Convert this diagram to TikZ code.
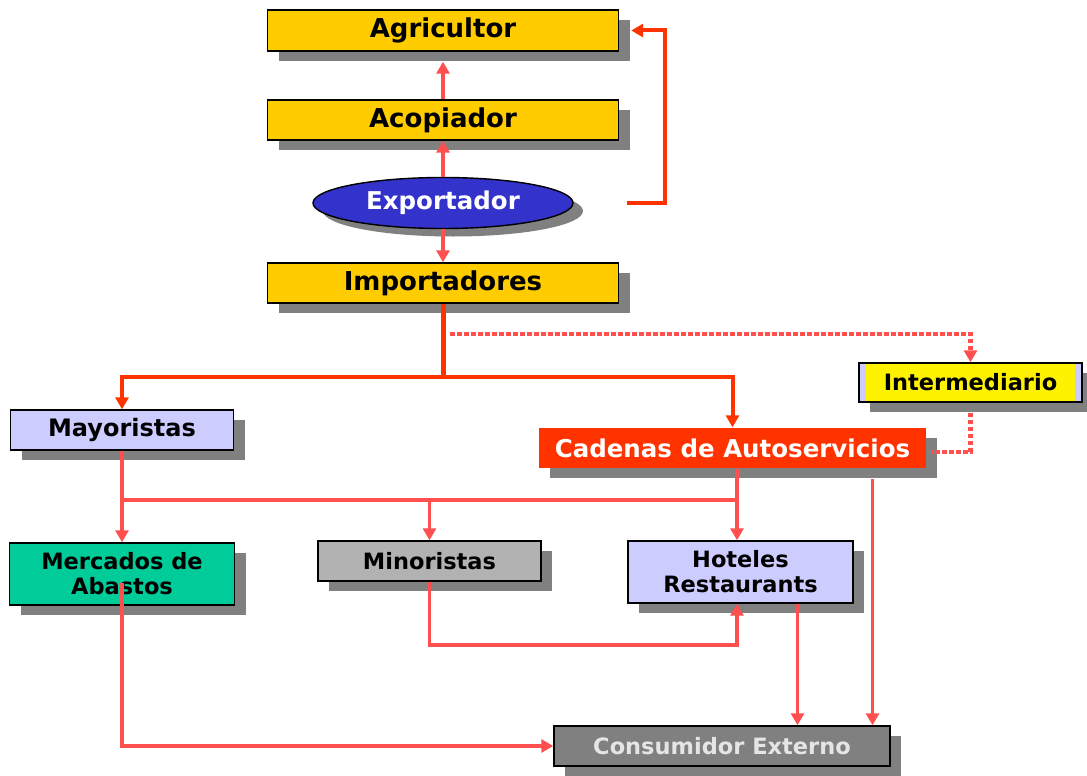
\documentclass[tikz,border=0pt]{standalone}
\usepackage{fontspec}
\setmainfont{DejaVu Sans}
\usetikzlibrary{arrows.meta,shapes.geometric,shadows}
\definecolor{gold}{HTML}{FFCC00}
\definecolor{lavender}{HTML}{CCCCFF}
\definecolor{teal}{HTML}{00CC99}
\definecolor{silver}{HTML}{B2B2B2}
\definecolor{redfill}{HTML}{FF3300}
\definecolor{royal}{HTML}{3333CC}
\definecolor{slate}{HTML}{808080}
\definecolor{salmon}{HTML}{FF5050}
\definecolor{redline}{HTML}{FF3300}
\begin{document}
\begin{tikzpicture}[x=1pt,y=-1pt]
\tikzstyle{box}=[draw=black,line width=1.4pt,inner sep=0pt,align=center,font=\bfseries\fontsize{22.5}{25}\selectfont,
  drop shadow={shadow xshift=11pt,shadow yshift=-10pt,fill=slate,opacity=1}]
\tikzstyle{bigbox}=[box,fill=gold,minimum width=351pt,minimum height=40pt,font=\bfseries\fontsize{26}{28}\selectfont]
\tikzstyle{flow}=[draw=salmon,line width=3.6pt,-{Triangle[width=13pt,length=12pt]}]
\tikzstyle{feed}=[draw=redline,line width=4pt,-{Triangle[width=13pt,length=12pt]}]
\tikzstyle{dots}=[draw=salmon,line width=4.5pt,dash pattern=on 4.5pt off 2.5pt]
\useasboundingbox (0,0) rectangle (1087,776);
\node[bigbox,minimum height=41pt] (agri) at (443,30.5) {Agricultor};
\node[bigbox] (acop) at (443,120) {Acopiador};
\node[ellipse,draw=black,line width=1.4pt,fill=royal,text=white,minimum width=260pt,minimum height=51pt,inner sep=0pt,
  font=\bfseries\fontsize{24.5}{28}\selectfont,
  drop shadow={shadow xshift=10pt,shadow yshift=-8pt,fill=slate,opacity=1}] (expo) at (443,203) {Exportador};
\node[bigbox] (impo) at (443,283) {Importadores};
\node[box,fill=lavender,minimum width=223pt,minimum height=40pt,font=\bfseries\fontsize{24}{28}\selectfont] (mayo) at (122,430) {Mayoristas};
\node[box,draw=none,fill=redfill,text=white,minimum width=387pt,minimum height=40pt,font=\bfseries\fontsize{24.5}{28}\selectfont] (cade) at (732.5,448) {Cadenas de Autoservicios};
\node[box,fill=lavender,minimum width=223pt,minimum height=39pt,
  path picture={\fill[yellow] ([xshift=7pt]path picture bounding box.south west) rectangle ([xshift=-7pt]path picture bounding box.north east);}] (inter) at (970.5,382.5) {Intermediario};
\node[box,fill=teal,minimum width=225pt,minimum height=62pt] (merc) at (122,574) {Mercados de\\Abastos};
\node[box,fill=silver,minimum width=223pt,minimum height=40pt] (mino) at (429.5,561) {Minoristas};
\node[box,fill=lavender,minimum width=225pt,minimum height=62pt] (hote) at (740.5,572) {Hoteles\\Restaurants};
\node[box,fill=slate,text=black!10,minimum width=336pt,minimum height=40pt] (cons) at (722,746) {Consumidor Externo};
% upper chain
\draw[flow] (acop.north) -- ([yshift=-10pt]agri.south);
\draw[flow] (expo.north) -- (acop.south);
\draw[flow] (expo.south) -- (impo.north);
\draw[feed] ([xshift=53pt]expo.east) -- (665,203) |- ([xshift=12pt]agri.east);
% importers
\coordinate (split) at (443,377);
\draw[feed,-,line width=5pt] (impo.south) -- (split);
\draw[feed] (split) -| (mayo.north);
\draw[feed] (split) -| (cade.north);
\coordinate (dotstart) at (450,334);
\draw[dots,-{Triangle[width=13pt,length=12pt]}] (dotstart) -| (inter.north);
\draw[dots] ([yshift=-10pt]inter.south) |- ([xshift=4pt,yshift=-4pt]cade.east);
% retail
\draw[flow] (mayo.south) -- (merc.north);
\draw[flow,-] (mayo.south |- 0,500) -- (737,500);
\draw[flow] (cade.south -| 737,0) -- (hote.north -| 737,0);
\draw[flow] (mino.north |- 0,500) -- (mino.north);
\draw[flow] (mino.south) -- (mino.south |- 0,645) -| (hote.south -| 737,0);
% consumer
\draw[flow] ([yshift=-9pt]merc.center) |- (cons.west);
\draw[flow] ([xshift=57pt]hote.south) -- ([xshift=57pt]hote.south |- cons.north);
\draw[flow] ([xshift=140pt,yshift=-10pt]cade.south) -- ([xshift=140pt]cade.south |- cons.north);
\end{tikzpicture}
\end{document}
